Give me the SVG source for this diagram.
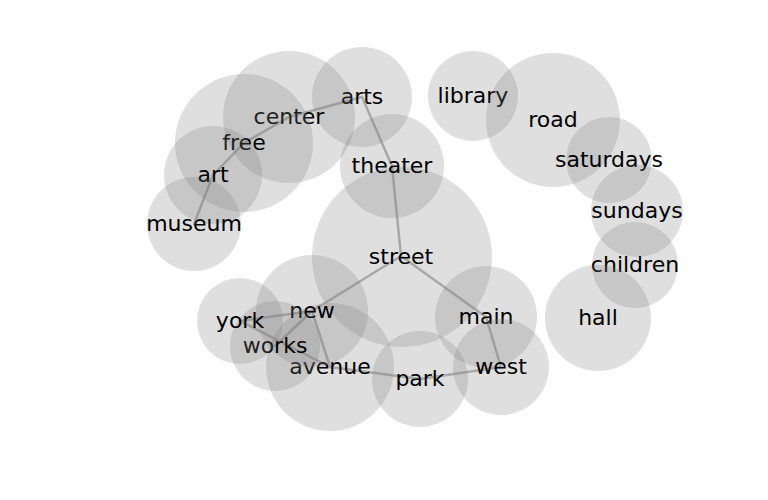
<svg xmlns="http://www.w3.org/2000/svg" width="768" height="500" viewBox="0 0 768 500">
<style>
.bubble{fill:#808080;fill-opacity:0.25;stroke:none}
.lbl{font-family:"DejaVu Sans",sans-serif;font-size:22px;fill:#000;text-anchor:middle}
.edge{stroke:#b6b6b6;stroke-width:2.5;fill:none;stroke-linecap:round}
</style>
<rect width="768" height="500" fill="#fff"/>
<g id="connectors">
<line class="edge" x1="362" y1="97" x2="289" y2="117"/>
<line class="edge" x1="289" y1="117" x2="244" y2="143"/>
<line class="edge" x1="244" y1="143" x2="213" y2="175"/>
<line class="edge" x1="213" y1="175" x2="194" y2="224"/>
<line class="edge" x1="362" y1="97" x2="392" y2="166"/>
<line class="edge" x1="392" y1="166" x2="401" y2="256"/>
<line class="edge" x1="401" y1="256" x2="312" y2="311"/>
<line class="edge" x1="401" y1="256" x2="486" y2="317"/>
<line class="edge" x1="486" y1="317" x2="501" y2="367"/>
<line class="edge" x1="501" y1="367" x2="420" y2="379"/>
<line class="edge" x1="420" y1="379" x2="330" y2="367"/>
<line class="edge" x1="312" y1="311" x2="330" y2="367"/>
<line class="edge" x1="312" y1="311" x2="240" y2="321"/>
<line class="edge" x1="312" y1="311" x2="275" y2="346"/>
<line class="edge" x1="240" y1="321" x2="330" y2="367"/>
</g>
<g id="node-street"><circle class="bubble" cx="402" cy="257" r="90"/><text class="lbl" x="401" y="264">street</text></g>
<g id="node-theater"><circle class="bubble" cx="392" cy="166" r="52"/><text class="lbl" x="392" y="173">theater</text></g>
<g id="node-arts"><circle class="bubble" cx="362" cy="97" r="50"/><text class="lbl" x="362" y="104">arts</text></g>
<g id="node-center"><circle class="bubble" cx="289" cy="117" r="66"/><text class="lbl" x="289" y="124">center</text></g>
<g id="node-free"><circle class="bubble" cx="244" cy="143" r="69"/><text class="lbl" x="244" y="150">free</text></g>
<g id="node-art"><circle class="bubble" cx="213" cy="175" r="49"/><text class="lbl" x="213" y="182">art</text></g>
<g id="node-museum"><circle class="bubble" cx="194" cy="224" r="47"/><text class="lbl" x="194" y="231">museum</text></g>
<g id="node-library"><circle class="bubble" cx="473" cy="96" r="45"/><text class="lbl" x="473" y="103">library</text></g>
<g id="node-road"><circle class="bubble" cx="553" cy="120" r="67"/><text class="lbl" x="553" y="127">road</text></g>
<g id="node-saturdays"><circle class="bubble" cx="609" cy="160" r="43"/><text class="lbl" x="609" y="167">saturdays</text></g>
<g id="node-sundays"><circle class="bubble" cx="637" cy="211" r="46"/><text class="lbl" x="637" y="218">sundays</text></g>
<g id="node-children"><circle class="bubble" cx="635" cy="265" r="43"/><text class="lbl" x="635" y="272">children</text></g>
<g id="node-hall"><circle class="bubble" cx="598" cy="318" r="53"/><text class="lbl" x="598" y="325">hall</text></g>
<g id="node-main"><circle class="bubble" cx="486" cy="317" r="51"/><text class="lbl" x="486" y="324">main</text></g>
<g id="node-west"><circle class="bubble" cx="501" cy="367" r="48"/><text class="lbl" x="501" y="374">west</text></g>
<g id="node-park"><circle class="bubble" cx="420" cy="379" r="48"/><text class="lbl" x="420" y="386">park</text></g>
<g id="node-avenue"><circle class="bubble" cx="330" cy="367" r="64"/><text class="lbl" x="330" y="374">avenue</text></g>
<g id="node-new"><circle class="bubble" cx="312" cy="311" r="56"/><text class="lbl" x="312" y="318">new</text></g>
<g id="node-works"><circle class="bubble" cx="275" cy="346" r="45"/><text class="lbl" x="275" y="353">works</text></g>
<g id="node-york"><circle class="bubble" cx="240" cy="321" r="43"/><text class="lbl" x="240" y="328">york</text></g>
</svg>
